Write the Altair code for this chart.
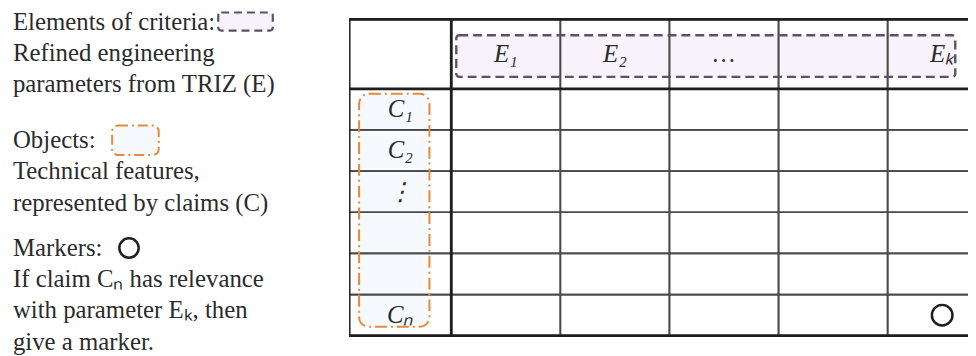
import altair as alt
import pandas as pd

# ---------------- data ----------------
criteria = ["E₁", "E₂", "…", "", "Eₖ"]            # header cells: elements of criteria
claims = ["C₁", "C₂", "⋮", "", "", "Cₙ"]           # row cells: objects (claims)
markers = [("Cₙ", "Eₖ")]                           # (claim, parameter) pairs with relevance

legend_blocks = [
    ["Elements of criteria:", "Refined engineering", "parameters from TRIZ (E)"],
    ["Objects:", "Technical features,", "represented by claims  (C)"],
    ["Markers:", "If claim Cₙ has relevance", "with parameter Eₖ, then", "give a marker."],
]

# ---------------- layout / style constants ----------------
SERIF = "Liberation Serif"
TEXT_COL = "#2b2b2b"
PURPLE_FILL, PURPLE_STROKE = "#f8f3fb", "#5b5266"
ORANGE_FILL, ORANGE_STROKE = "#f6f9fd", "#e8893a"

LEFT_W, TABLE_W, PANEL_H, GAP = 300, 624, 340, 44
LINE_PX = 31.5                      # legend line spacing (px)
LINE_TOP = 12.5                     # first legend line centre (px from panel top)
block_start = [0.0, 3.79, 7.24]     # legend block starts, in lines

COL_PX, ROW_PX = 110, 41.5          # table unit sizes
FIRST_W, HDR_H = 0.936, 1.687       # claim column width / header height in units
TABLE_TOP = 10                      # px from panel top

ncol, nrow = len(criteria), len(claims)


def col_left(j):
    return 0.0 if j == 0 else FIRST_W + (j - 1)


def col_right(j):
    return FIRST_W if j == 0 else FIRST_W + j


def row_top(i):
    return 0.0 if i == 0 else HDR_H + (i - 1)


def row_bot(i):
    return HDR_H if i == 0 else HDR_H + i


TW, TH = col_right(ncol), row_bot(nrow)

cells = pd.DataFrame([dict(x=col_left(j), x2=col_right(j), y=row_top(i), y2=row_bot(i))
                      for i in range(nrow + 1) for j in range(ncol + 1)])

labels = pd.DataFrame(
    [dict(x=(col_left(j) + col_right(j)) / 2, y=HDR_H / 2, text=t)
     for j, t in enumerate(criteria, start=1)] +
    [dict(x=FIRST_W / 2, y=(row_top(i) + row_bot(i)) / 2, text=t)
     for i, t in enumerate(claims, start=1)]
)

marks_df = pd.DataFrame([
    dict(x=(col_left(criteria.index(e) + 1) + col_right(criteria.index(e) + 1)) / 2,
         y=(row_top(claims.index(c) + 1) + row_bot(claims.index(c) + 1)) / 2)
    for c, e in markers])

crit_box = pd.DataFrame([dict(x=col_left(1) + 0.046, x2=TW - 0.38, y=0.386, y2=HDR_H - 0.289)])
obj_box = pd.DataFrame([dict(x=0.091, x2=FIRST_W - 0.2, y=HDR_H + 0.12, y2=TH - 0.217)])
outer = pd.DataFrame([dict(x=0.0, x2=TW, y=0.0, y2=TH)])
thick_rules = pd.DataFrame([dict(x=0.0, x2=TW, y=HDR_H, y2=HDR_H),
                            dict(x=FIRST_W, x2=FIRST_W, y=0.0, y2=TH)])

xs = alt.Scale(domain=[0, TABLE_W / COL_PX], nice=False, zero=False)
ys = alt.Scale(domain=[-TABLE_TOP / ROW_PX, -TABLE_TOP / ROW_PX + PANEL_H / ROW_PX],
               reverse=True, nice=False, zero=False)

enc_box = dict(x=alt.X("x:Q", scale=xs, axis=None), x2="x2:Q",
               y=alt.Y("y:Q", scale=ys, axis=None), y2="y2:Q")

fill_crit = alt.Chart(crit_box).mark_rect(clip=True, fill=PURPLE_FILL, cornerRadius=3).encode(**enc_box)
fill_obj = alt.Chart(obj_box).mark_rect(clip=True, fill=ORANGE_FILL, cornerRadius=10).encode(**enc_box)
grid = alt.Chart(cells).mark_rect(clip=True, fillOpacity=0, stroke="#4a4a4a",
                                  strokeWidth=1.7).encode(**enc_box)
border = alt.Chart(outer).mark_rect(clip=True, fillOpacity=0, stroke="#1e1e1e",
                                    strokeWidth=2.8).encode(**enc_box)
rules = alt.Chart(thick_rules).mark_rule(clip=True, color="#1e1e1e",
                                         strokeWidth=2.8).encode(**enc_box)
dash_crit = alt.Chart(crit_box).mark_rect(clip=True, fillOpacity=0, stroke=PURPLE_STROKE,
                                          strokeWidth=2.4, strokeDash=[9, 5],
                                          cornerRadius=3).encode(**enc_box)
dash_obj = alt.Chart(obj_box).mark_rect(clip=True, fillOpacity=0, stroke=ORANGE_STROKE,
                                        strokeWidth=2, strokeDash=[12, 4, 2, 4],
                                        cornerRadius=10).encode(**enc_box)
text_tab = alt.Chart(labels).mark_text(clip=True, font=SERIF, fontStyle="italic", fontSize=25,
                                       color=TEXT_COL, baseline="middle", align="center").encode(
    x=alt.X("x:Q", scale=xs, axis=None), y=alt.Y("y:Q", scale=ys, axis=None), text="text:N")
circ = alt.Chart(marks_df).mark_point(clip=True, shape="circle", filled=False, size=430,
                                      strokeWidth=2.5, color="#1e1e1e", opacity=1).encode(
    x=alt.X("x:Q", scale=xs, axis=None), y=alt.Y("y:Q", scale=ys, axis=None))

table = alt.layer(fill_crit, fill_obj, grid, border, rules, dash_crit, dash_obj, text_tab, circ).properties(
    width=TABLE_W, height=PANEL_H)

# ---------------- left legend panel ----------------
leg = pd.DataFrame([dict(text=t, pos=s + k)
                    for s, blk in zip(block_start, legend_blocks) for k, t in enumerate(blk)])
lxs = alt.Scale(domain=[0, LEFT_W], nice=False, zero=False)
lys = alt.Scale(domain=[-LINE_TOP / LINE_PX, (PANEL_H - LINE_TOP) / LINE_PX],
                reverse=True, nice=False, zero=False)

leg_text = alt.Chart(leg).mark_text(font=SERIF, fontSize=25, align="left", baseline="middle",
                                    color=TEXT_COL).encode(
    x=alt.value(5), y=alt.Y("pos:Q", scale=lys, axis=None), text="text:N")

g_crit = pd.DataFrame([dict(x=212, x2=267, y=block_start[0] - 0.3, y2=block_start[0] + 0.28)])
g_obj = pd.DataFrame([dict(x=105, x2=152, y=block_start[1] - 0.47, y2=block_start[1] + 0.47)])
g_mark = pd.DataFrame([dict(x=122, y=block_start[2])])

enc_g = dict(x=alt.X("x:Q", scale=lxs, axis=None), x2="x2:Q",
             y=alt.Y("y:Q", scale=lys, axis=None), y2="y2:Q")
leg_crit = alt.Chart(g_crit).mark_rect(fill=PURPLE_FILL, stroke=PURPLE_STROKE, strokeWidth=2.2,
                                       strokeDash=[8, 5], cornerRadius=3).encode(**enc_g)
leg_obj = alt.Chart(g_obj).mark_rect(fill=ORANGE_FILL, stroke=ORANGE_STROKE, strokeWidth=2,
                                     strokeDash=[10, 4, 2, 4], cornerRadius=6).encode(**enc_g)
leg_mark = alt.Chart(g_mark).mark_point(shape="circle", filled=False, size=380, strokeWidth=2.5,
                                        color="#1e1e1e", opacity=1).encode(
    x=alt.X("x:Q", scale=lxs, axis=None), y=alt.Y("y:Q", scale=lys, axis=None))

left = alt.layer(leg_crit, leg_obj, leg_mark, leg_text).properties(width=LEFT_W, height=PANEL_H)

chart = alt.hconcat(left, table, spacing=GAP).properties(
    padding=0, background="white").configure_view(stroke="transparent", strokeWidth=0)

chart.save("out.html", embed_options={"renderer": "svg", "actions": False})
